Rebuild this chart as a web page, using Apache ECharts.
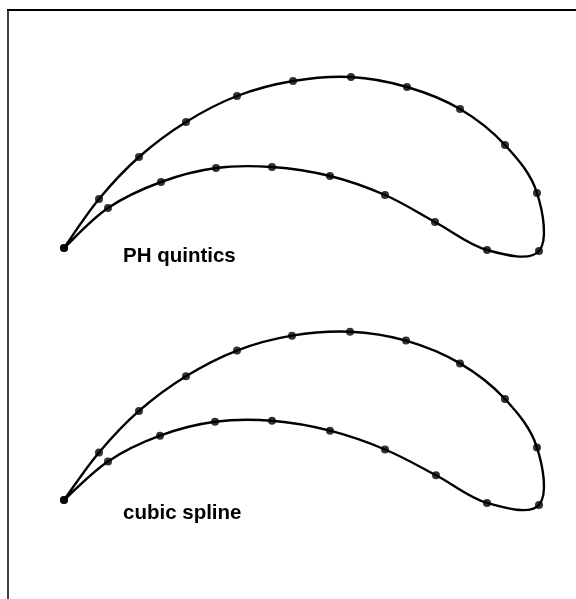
<!DOCTYPE html>
<html>
<head>
<meta charset="utf-8">
<script src="https://cdn.jsdelivr.net/npm/echarts@6/dist/echarts.min.js"></script>
<style>html,body{margin:0;padding:0;background:#fff}#c{width:576px;height:599px}</style>
</head>
<body>
<div id="c"></div>
<script>
// Airfoil points (x along chord, y up), leading edge -> upper surface -> trailing edge -> lower surface -> leading edge
var quinticX = [0, 7, 15, 24.4, 34.6, 45.8, 57.4, 68.6, 79.2, 88.2, 94.6, 95, 84.6, 74.2, 64.2, 53.2, 41.6, 30.4, 19.4, 8.8, 0];
var quinticY = [0, 9.8, 18.2, 25.2, 30.4, 33.4, 34.2, 32.2, 27.8, 20.6, 11, -0.6, -0.4, 5.2, 10.6, 14.4, 16.2, 16, 13.2, 8, 0];
var splineX = [0, 7, 15, 24.4, 34.6, 45.6, 57.2, 68.4, 79.2, 88.2, 94.6, 95, 84.6, 74.4, 64.2, 53.2, 41.6, 30.2, 19.2, 8.8, 0];
var splineY = [0, 9.6, 18, 25, 30.2, 33.2, 34, 32.2, 27.6, 20.4, 10.6, -1, -0.6, 5, 10.2, 14, 16, 15.8, 13, 7.8, 0];
var labels = ['PH quintics', 'cubic spline'];

function pairs(xs, ys) { return xs.map(function (x, i) { return [x, ys[i]]; }); }
var quinticData = pairs(quinticX, quinticY);
var splineData = pairs(splineX, splineY);

var chart = echarts.init(document.getElementById('c'));
var axisX = function (i) { return { type: 'value', gridIndex: i, min: 0, max: 100, show: false }; };
var axisY = function (i) { return { type: 'value', gridIndex: i, min: -20, max: 40, show: false }; };

// Smooth curve through the data points (Catmull-Rom -> cubic Bezier), positioned by the axes
function curveSeries(i, data) {
  return {
    type: 'custom', xAxisIndex: i, yAxisIndex: i, data: data, silent: true, clip: false,
    renderItem: function (params, api) {
      if (params.dataIndex !== 0) return null;
      var p = data.map(function (d) { return api.coord(d); });
      var n = p.length, k = 1 / 5.5;
      var d = 'M' + p[0][0] + ' ' + p[0][1];
      for (var j = 0; j < n - 1; j++) {
        var p0 = p[Math.max(j - 1, 0)], p1 = p[j], p2 = p[j + 1], p3 = p[Math.min(j + 2, n - 1)];
        var c1x = p1[0] + (p2[0] - p0[0]) * k, c1y = p1[1] + (p2[1] - p0[1]) * k;
        var c2x = p2[0] - (p3[0] - p1[0]) * k, c2y = p2[1] - (p3[1] - p1[1]) * k;
        d += ' C' + c1x + ' ' + c1y + ' ' + c2x + ' ' + c2y + ' ' + p2[0] + ' ' + p2[1];
      }
      return { type: 'path', shape: { pathData: d }, style: { stroke: '#000', lineWidth: 2.4, fill: null } };
    }
  };
}
function pointSeries(i, data) {
  return {
    type: 'scatter', xAxisIndex: i, yAxisIndex: i, data: data, silent: true,
    symbol: 'circle', symbolSize: 8, itemStyle: { color: '#000' }
  };
}
chart.setOption({
  backgroundColor: '#fff',
  animation: false,
  grid: [
    { left: 64, width: 500, top: 48, height: 300 },
    { left: 64, width: 500, top: 302, height: 300 }
  ],
  xAxis: [axisX(0), axisX(1)],
  yAxis: [axisY(0), axisY(1)],
  series: [
    curveSeries(0, quinticData), pointSeries(0, quinticData),
    curveSeries(1, splineData), pointSeries(1, splineData)
  ],
  graphic: [
    { type: 'line', shape: { x1: 7, y1: 10, x2: 576, y2: 10 }, style: { stroke: '#000', lineWidth: 2 } },
    { type: 'line', shape: { x1: 8, y1: 9, x2: 8, y2: 599 }, style: { stroke: '#000', lineWidth: 1.5 } },
    { type: 'text', x: 123, y: 256, style: { text: labels[0], font: 'bold 20.5px "Liberation Sans", Arial, sans-serif', fill: '#000', verticalAlign: 'middle' } },
    { type: 'text', x: 123, y: 513, style: { text: labels[1], font: 'bold 20.5px "Liberation Sans", Arial, sans-serif', fill: '#000', verticalAlign: 'middle' } }
  ]
});
</script>
</body>
</html>
